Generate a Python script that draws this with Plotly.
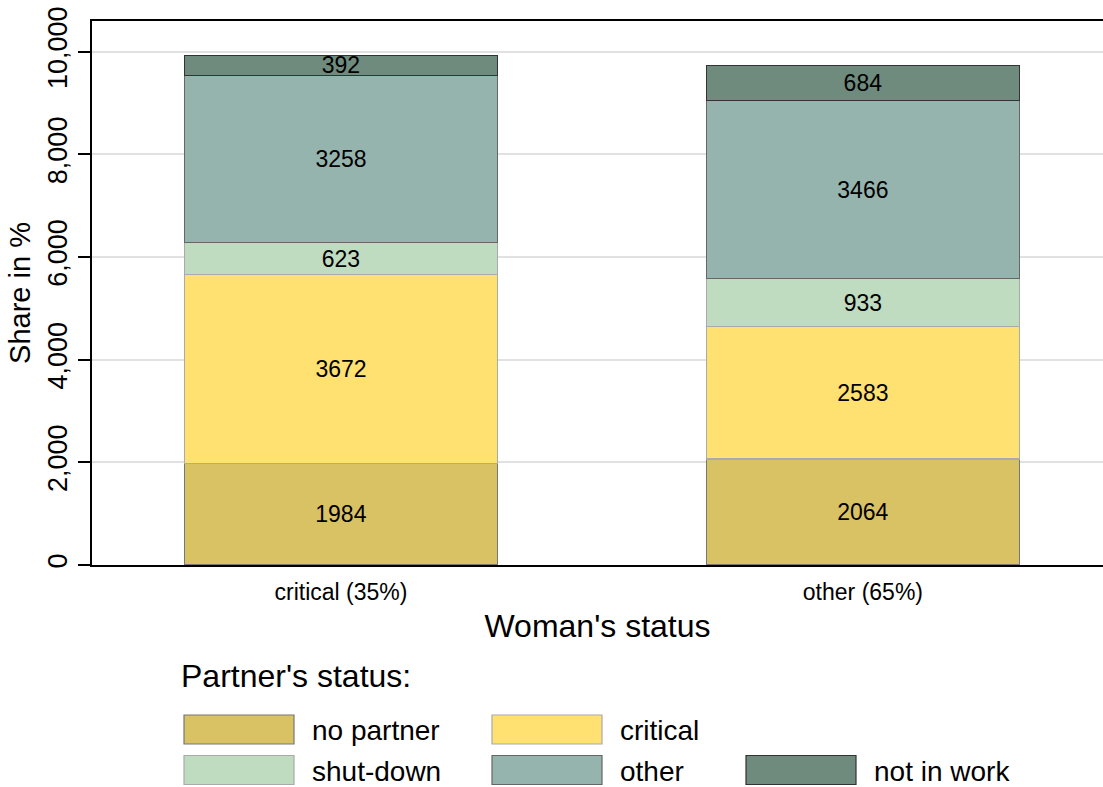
import plotly.graph_objects as go

categories = ["critical (35%)", "other (65%)"]
series_names = ["no partner", "critical", "shut-down", "other", "not in work"]
no_partner = [1984, 2064]
critical = [3672, 2583]
shut_down = [623, 933]
other = [3258, 3466]
not_in_work = [392, 684]
series_values = [no_partner, critical, shut_down, other, not_in_work]
colors = ["#D9C264", "#FEE171", "#BFDCC0", "#96B4AE", "#6E8B7E"]
line_colors = ["#777777", "#AAAAAA", "#AAAAAA", "#666666", "#333333"]
y_ticks = [0, 2000, 4000, 6000, 8000, 10000]
y_tick_labels = ["0", "2,000", "4,000", "6,000", "8,000", "10,000"]

FONT = "Liberation Sans, Arial, sans-serif"

fig = go.Figure()
for name, vals, c, lc in zip(series_names, series_values, colors, line_colors):
    fig.add_trace(go.Bar(
        x=[0, 1], y=vals, name=name, width=0.6,
        marker=dict(color=c, line=dict(color=lc, width=1.2)),
        text=[str(v) for v in vals], textposition="inside",
        insidetextanchor="middle", constraintext="none",
        textfont=dict(family=FONT, size=23, color="black"),
        showlegend=False,
    ))

W, H = 1103, 787
L, R, T, B = 92, 0, 21, 222
pw, ph = W - L - R, H - T - B

def px(x):
    return (x - L) / pw

def py(y):
    return (H - B - y) / ph

shapes = []
annotations = []
# legend title
annotations.append(dict(x=px(179), y=py(676), xref="paper", yref="paper",
                        text="Partner's status:", showarrow=False, xanchor="left",
                        yanchor="middle", font=dict(family=FONT, size=32, color="black")))
legend_pos = [(184, 729.5), (492, 729.5), (184, 770), (492, 770), (746, 770)]
for (name, c, lc), (lx, ly) in zip(zip(series_names, colors, line_colors), legend_pos):
    shapes.append(dict(type="rect", xref="paper", yref="paper",
                       x0=px(lx), x1=px(lx + 110), y0=py(ly - 14.5), y1=py(ly + 14.5),
                       fillcolor=c, line=dict(color=lc, width=1.2)))
    annotations.append(dict(x=px(lx + 126), y=py(ly + 1), xref="paper", yref="paper",
                            text=name, showarrow=False, xanchor="left", yanchor="middle",
                            font=dict(family=FONT, size=28, color="black")))

fig.update_layout(
    barmode="stack",
    width=W, height=H,
    margin=dict(l=L, r=R, t=T, b=B),
    plot_bgcolor="white", paper_bgcolor="white",
    bargap=0.4,
    shapes=shapes, annotations=annotations,
    xaxis=dict(
        range=[-0.477, 1.46], tickmode="array", tickvals=[0, 1], ticktext=categories,
        showgrid=False, zeroline=False, showline=True, linecolor="black", linewidth=2,
        mirror=True, ticks="", ticklabelstandoff=5,
        tickfont=dict(family=FONT, size=23, color="black"),
        title=dict(text="Woman's status", font=dict(family=FONT, size=32, color="black"),
                   standoff=11),
    ),
    yaxis=dict(
        range=[0, 10600], tickmode="array", tickvals=y_ticks, ticktext=y_tick_labels,
        showgrid=True, gridcolor="#E1E1E1", gridwidth=2, zeroline=False,
        showline=True, linecolor="black", linewidth=2,
        ticks="outside", ticklen=12, tickwidth=2, tickcolor="black",
        tickangle=-90, tickfont=dict(family=FONT, size=27, color="black"),
        title=dict(text="Share in %", font=dict(family=FONT, size=29, color="black"),
                   standoff=4),
    ),
)

fig.write_html("out.html", config={"displayModeBar": False},
               post_script="document.body.style.margin='0';")
